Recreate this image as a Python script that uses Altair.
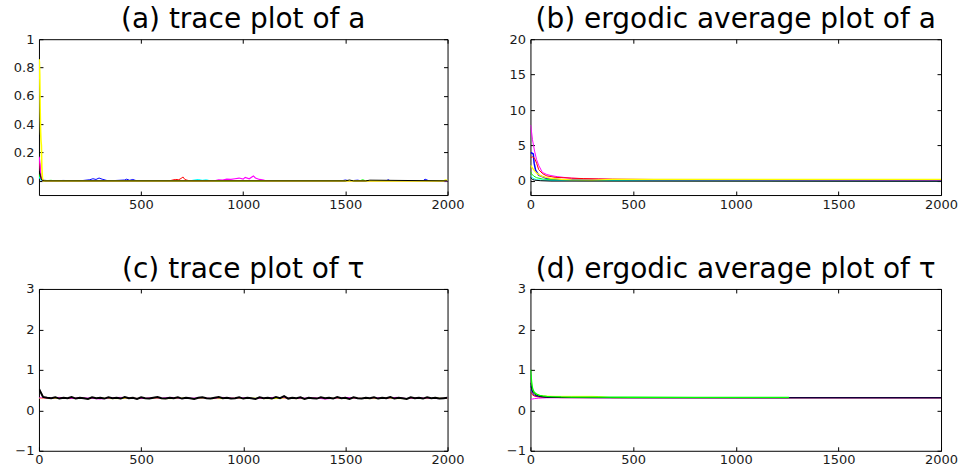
import altair as alt
import pandas as pd

# MATLAB-style chain colours
CHAIN_COLORS = {"b": "#0000ff", "g": "#00ff00", "r": "#ff0000", "c": "#00ffff",
                "m": "#ff00ff", "y": "#ffff00", "k": "#000000"}

# ---------------- (a) trace plot of a ----------------
a_b_x = [1, 20, 60, 120, 200, 250, 265, 280, 295, 310, 325, 340, 420, 430, 445, 460, 470, 480,
         900, 1480, 1500, 1520, 1560, 1580, 1600, 1700, 1710, 1720, 1880, 1890, 1900, 1910, 2000]
a_b_y = [0.03, 0.005, 0.0, 0.003, 0.0, 0.008, 0.015, 0.01, 0.02, 0.012, 0.006, 0.0, 0.006, 0.012, 0.004,
         0.01, 0.005, 0.0, 0.0, 0.0, 0.006, 0.0, 0.005, 0.0, 0.0, 0.0, 0.008, 0.0, 0.0, 0.012, 0.006, 0.0, 0.0]
a_g_x = [1, 5, 10, 20, 60, 80, 100, 1570, 1585, 1600, 2000]
a_g_y = [0.05, 0.02, 0.005, 0.0, 0.004, 0.0, 0.0, 0.0, 0.008, 0.0, 0.0]
a_r_x = [1, 3, 6, 10, 15, 30, 640, 655, 670, 685, 700, 705, 715, 725, 740, 2000]
a_r_y = [0.15, 0.14, 0.1, 0.04, 0.01, 0.0, 0.0, 0.006, 0.01, 0.008, 0.02, 0.028, 0.01, 0.005, 0.0, 0.0]
a_c_x = [1, 10, 20, 740, 760, 780, 800, 820, 840, 2000]
a_c_y = [0.03, 0.005, 0.0, 0.0, 0.006, 0.01, 0.004, 0.008, 0.0, 0.0]
a_m_x = [1, 3, 6, 9, 12, 16, 20, 860, 880, 900, 920, 940, 960, 980, 1000, 1010, 1030, 1050, 1060,
         1080, 1100, 1110, 2000]
a_m_y = [0.17, 0.16, 0.12, 0.06, 0.02, 0.005, 0.0, 0.0, 0.008, 0.005, 0.012, 0.01, 0.015, 0.02, 0.012,
         0.025, 0.015, 0.035, 0.02, 0.01, 0.006, 0.0, 0.0]
a_y_x = [1, 3, 5, 7, 9, 11, 13, 15, 18, 22, 1980, 1990, 2000]
a_y_y = [0.86, 0.84, 0.75, 0.5, 0.35, 0.28, 0.25, 0.1, 0.02, 0.0, 0.0, 0.006, 0.003]
a_k_x = [1, 4, 8, 12, 18, 30, 1500, 1520, 1540, 1600, 1620, 2000]
a_k_y = [0.07, 0.06, 0.04, 0.015, 0.002, 0.0, 0.0, 0.006, 0.0, 0.0, 0.005, 0.0]

# ---------------- (b) ergodic average plot of a ----------------
b_b_x = [1, 8, 14, 18, 25, 40, 80, 150, 2000]
b_b_y = [4.0, 3.9, 3.8, 2.5, 1.5, 0.8, 0.35, 0.15, 0.03]
b_g_x = [1, 5, 15, 30, 60, 100, 150, 250, 2000]
b_g_y = [1.3, 1.0, 0.7, 0.45, 0.25, 0.15, 0.08, 0.04, 0.01]
b_c_x = [1, 5, 10, 30, 100, 2000]
b_c_y = [0.8, 0.6, 0.4, 0.15, 0.05, 0.01]
b_m_x = [1, 5, 10, 15, 20, 30, 40, 58, 80, 100, 130, 160, 200, 260, 330, 400, 600, 2000]
b_m_y = [7.9, 7.0, 5.8, 5.0, 4.2, 3.0, 2.2, 1.2, 0.9, 0.75, 0.6, 0.5, 0.38, 0.3, 0.25, 0.2, 0.15, 0.1]
b_r_x = [1, 10, 20, 30, 40, 60, 80, 120, 200, 260, 330, 400, 600, 2000]
b_r_y = [3.3, 3.4, 3.2, 2.5, 1.6, 1.0, 0.7, 0.5, 0.38, 0.32, 0.28, 0.25, 0.2, 0.18]
b_y_x = [1, 5, 10, 20, 30, 45, 60, 80, 100, 150, 200, 300, 400, 2000]
b_y_y = [2.2, 2.0, 1.8, 1.4, 1.1, 0.8, 0.6, 0.45, 0.35, 0.22, 0.15, 0.1, 0.2, 0.2]
b_k_x = [1, 5, 10, 20, 50, 100, 2000]
b_k_y = [0.5, 0.35, 0.2, 0.1, 0.02, -0.03, -0.05]

# ---------------- (c) trace plot of tau ----------------
c_k_x = [1] + list(range(20, 2001, 20))
c_k_y = [0.52, 0.33, 0.31, 0.30, 0.32, 0.29, 0.31, 0.30, 0.33, 0.29, 0.31, 0.30, 0.28, 0.32, 0.30, 0.31, 0.29, 0.32, 0.30, 0.31,
         0.29, 0.33, 0.30, 0.31, 0.28, 0.32, 0.30, 0.29, 0.31, 0.33, 0.30, 0.29, 0.31, 0.30, 0.32, 0.29, 0.31, 0.30, 0.28, 0.31,
         0.32, 0.30, 0.29, 0.31, 0.33, 0.30, 0.31, 0.29, 0.30, 0.32, 0.29, 0.31, 0.30, 0.28, 0.32, 0.30, 0.31, 0.29, 0.33, 0.30,
         0.35, 0.29, 0.31, 0.30, 0.32, 0.28, 0.31, 0.30, 0.29, 0.32, 0.30, 0.31, 0.29, 0.33, 0.30, 0.31, 0.28, 0.32, 0.30, 0.29,
         0.31, 0.30, 0.32, 0.29, 0.31, 0.30, 0.33, 0.29, 0.31, 0.30, 0.28, 0.32, 0.30, 0.31, 0.29, 0.32, 0.30, 0.31, 0.29, 0.30,
         0.31]
c_y_x = [1] + list(range(50, 2001, 50))
c_y_y = [0.30, 0.29, 0.30, 0.29, 0.30, 0.29, 0.30, 0.29, 0.29, 0.30,
         0.29, 0.30, 0.29, 0.29, 0.30, 0.29, 0.30, 0.29, 0.29, 0.30,
         0.29, 0.30, 0.29, 0.29, 0.30, 0.29, 0.29, 0.30, 0.29, 0.30,
         0.29, 0.30, 0.29, 0.29, 0.30, 0.29, 0.29, 0.30, 0.29, 0.30,
         0.29]
c_m_x = [1] + list(range(50, 2001, 50))
c_m_y = [0.31, 0.30, 0.32, 0.29, 0.31, 0.30, 0.28, 0.31, 0.32, 0.30,
         0.29, 0.31, 0.30, 0.32, 0.29, 0.30, 0.31, 0.29, 0.32, 0.30,
         0.31, 0.29, 0.30, 0.32, 0.31, 0.29, 0.30, 0.31, 0.28, 0.30,
         0.32, 0.30, 0.29, 0.31, 0.30, 0.32, 0.29, 0.31, 0.30, 0.29,
         0.30]

# ---------------- (d) ergodic average plot of tau ----------------
d_y_x = [1, 5, 10, 20, 30, 50, 80, 120, 150, 200, 300, 330, 400, 2000]
d_y_y = [0.55, 0.5, 0.45, 0.4, 0.38, 0.36, 0.35, 0.345, 0.345, 0.345, 0.345, 0.34, 0.31, 0.31]
d_m_x = [1, 5, 10, 20, 40, 60, 80, 100, 150, 2000]
d_m_y = [0.25, 0.27, 0.28, 0.29, 0.3, 0.305, 0.31, 0.31, 0.31, 0.31]
d_r_x = [1, 5, 10, 20, 40, 80, 150, 2000]
d_r_y = [0.45, 0.42, 0.38, 0.35, 0.33, 0.32, 0.315, 0.31]
d_b_x = [1, 5, 10, 20, 40, 80, 150, 500, 2000]
d_b_y = [0.6, 0.5, 0.42, 0.37, 0.34, 0.325, 0.318, 0.312, 0.31]
d_k_x = [1, 4, 8, 12, 20, 30, 50, 80, 110, 150, 300, 1000, 2000]
d_k_y = [0.68, 0.6, 0.5, 0.45, 0.4, 0.37, 0.34, 0.325, 0.32, 0.315, 0.312, 0.31, 0.31]
d_g_x = [1, 3, 6, 10, 15, 20, 30, 45, 60, 80, 100, 150, 200, 300, 500, 800, 1000, 1260]
d_g_y = [1.0, 0.85, 0.7, 0.55, 0.48, 0.44, 0.40, 0.37, 0.355, 0.345, 0.338, 0.33, 0.328, 0.325,
         0.323, 0.322, 0.322, 0.322]

FONT = "DejaVu Sans"


def axis(orient, values, fmt, labels=True, pad=3):
    return alt.Axis(orient=orient, values=values, format=fmt, offset=-4, tickSize=4,
                    domain=False, grid=False, labels=labels, labelPadding=pad,
                    labelFont=FONT, labelFontSize=13, labelColor="#1a1a1a",
                    tickColor="#000000", labelFlush=False, labelOverlap=False,
                    title=None)


def panel(series, title, xdom, ydom, xticks, yticks, yfmt, w, h, widths=None):
    layers = []
    n = len(series)
    for i, (chain, xs, ys) in enumerate(series):
        df = pd.DataFrame({"iter": xs, "val": ys})
        if i == 0:
            xa = axis("bottom", xticks, "d", pad=3)
            ya = axis("left", yticks, yfmt, pad=5)
        elif i == n - 1:
            xa = axis("top", xticks, "d", labels=False)
            ya = axis("right", yticks, yfmt, labels=False)
        else:
            xa = None
            ya = None
        sw = widths[i] if widths else 1
        layers.append(
            alt.Chart(df).mark_line(color=CHAIN_COLORS[chain], strokeWidth=sw, clip=True).encode(
                x=alt.X("iter:Q", scale=alt.Scale(domain=xdom, nice=False, zero=False), axis=xa),
                y=alt.Y("val:Q", scale=alt.Scale(domain=ydom, nice=False, zero=False), axis=ya),
            )
        )
    return alt.layer(*layers).resolve_axis(x="independent", y="independent").properties(
        width=w, height=h,
        title=alt.TitleParams(text=title, font=FONT, fontSize=28, fontWeight="normal",
                              color="#000000", anchor="middle", frame="group",
                              baseline="alphabetic", offset=-23),
    )


xt = [0, 500, 1000, 1500, 2000]

pa = panel([("b", a_b_x, a_b_y), ("g", a_g_x, a_g_y), ("r", a_r_x, a_r_y), ("c", a_c_x, a_c_y),
            ("m", a_m_x, a_m_y), ("y", a_y_x, a_y_y), ("k", a_k_x, a_k_y)],
           "(a) trace plot of a", [1, 2000], [-0.1, 1], [500, 1000, 1500, 2000],
           [0, 0.2, 0.4, 0.6, 0.8, 1], "~g", 409, 156,
           widths=[1, 1, 1, 1, 1.2, 1.6, 1])
pb = panel([("b", b_b_x, b_b_y), ("g", b_g_x, b_g_y), ("c", b_c_x, b_c_y), ("m", b_m_x, b_m_y),
            ("r", b_r_x, b_r_y), ("y", b_y_x, b_y_y), ("k", b_k_x, b_k_y)],
           "(b) ergodic average plot of a", [0, 2000], [-2, 20], xt,
           [0, 5, 10, 15, 20], "d", 411, 156,
           widths=[1.5, 1, 1, 1, 1, 1.3, 1])
pc = panel([("y", c_y_x, c_y_y), ("m", c_m_x, c_m_y), ("k", c_k_x, c_k_y)],
           "(c) trace plot of \u03c4", [0, 2000], [-1, 3], xt, [-1, 0, 1, 2, 3], "d", 409, 162,
           widths=[1, 1, 2])
pd_ = panel([("y", d_y_x, d_y_y), ("m", d_m_x, d_m_y), ("r", d_r_x, d_r_y), ("b", d_b_x, d_b_y),
             ("k", d_k_x, d_k_y), ("g", d_g_x, d_g_y)],
            "(d) ergodic average plot of \u03c4", [0, 2000], [-1, 3], xt, [-1, 0, 1, 2, 3], "d", 411, 162,
            widths=[1, 1, 1, 1, 1, 1.3])

chart = alt.concat(pa, pb, pc, pd_, columns=2, spacing={"row": 94, "column": 83},
                   bounds="flush").properties(
    padding={"left": 12, "top": 5, "right": 0, "bottom": 0},
    background="white",
).configure_view(stroke="#000000", strokeWidth=1)

chart.save("out.html", embed_options={"renderer": "svg", "actions": False})
